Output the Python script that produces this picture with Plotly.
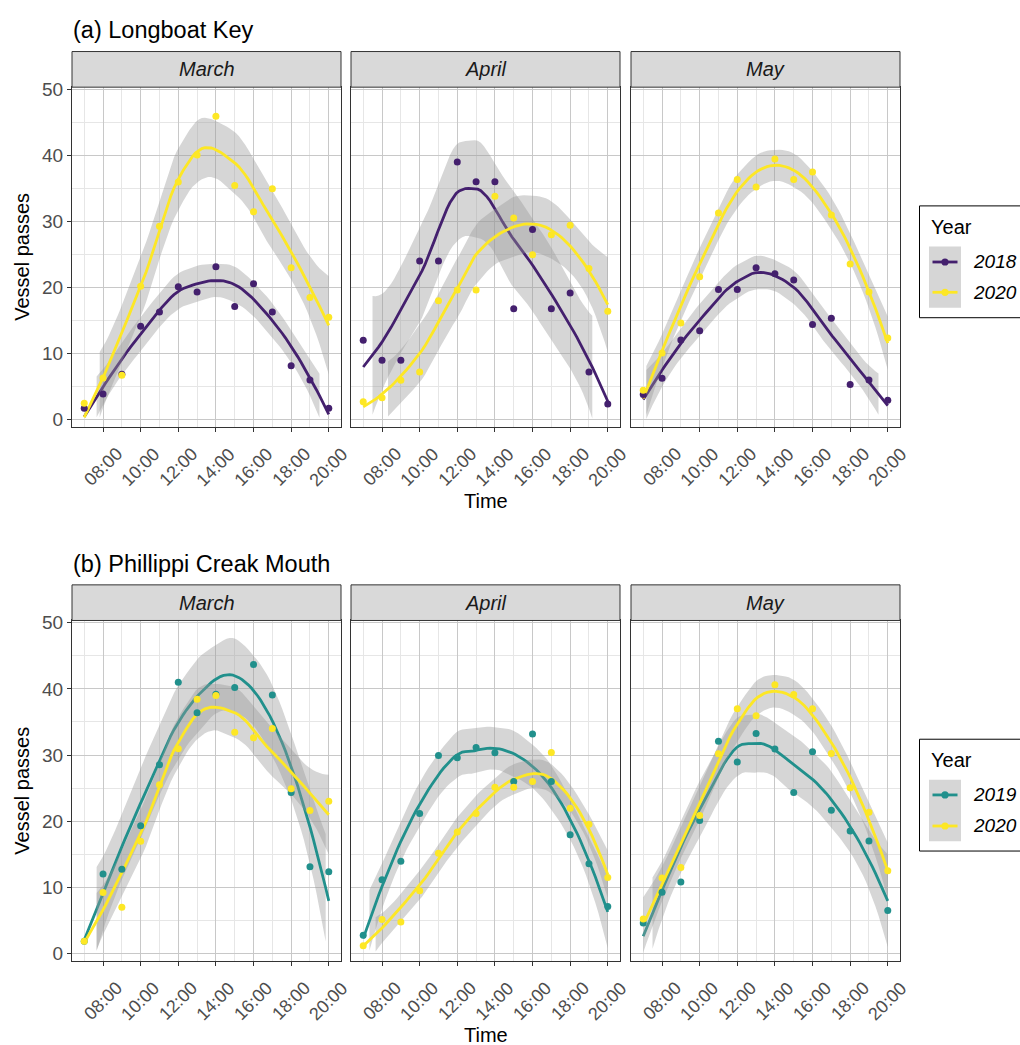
import math
import numpy as np
import plotly.graph_objects as go

# ---------------- data ----------------
HOURS = [7, 8, 9, 10, 11, 12, 13, 14, 15, 16, 17, 18, 19, 20]
TICK_HOURS = [8, 10, 12, 14, 16, 18, 20]
TICK_LABELS = ["08:00", "10:00", "12:00", "14:00", "16:00", "18:00", "20:00"]
MONTHS = ["March", "April", "May"]
Y_TICKS = [0, 10, 20, 30, 40, 50]

# (a) Longboat Key
lbk_2018_march = [1.65, 3.8, 6.8, 14.1, 16.25, 20.1, 19.3, 23.1, 17.1, 20.55, 16.25, 8.1, 5.95, 1.65]
lbk_2020_march = [2.4, 6.25, 6.65, 20.15, 29.25, 35.95, 40.05, 45.95, 35.45, 31.45, 34.95, 22.95, 18.45, 15.45]
lbk_2018_april = [11.95, 8.95, 8.95, 24.0, 24.0, 39.0, 36.0, 36.0, 16.75, 28.75, 16.75, 19.15, 7.15, 2.3]
lbk_2020_april = [2.65, 3.25, 5.9, 7.15, 17.95, 19.6, 19.6, 33.8, 30.5, 24.95, 27.95, 29.4, 22.85, 16.35]
lbk_2018_may = [3.75, 6.2, 12.0, 13.4, 19.65, 19.65, 22.95, 22.05, 21.1, 14.35, 15.3, 5.25, 5.95, 2.85]
lbk_2020_may = [4.4, 10.05, 14.6, 21.6, 31.25, 36.35, 35.2, 39.45, 36.35, 37.5, 30.95, 23.55, 19.3, 12.3]

# (b) Phillippi Creak Mouth
pcm_2019_march = [1.85, 12.0, 12.75, 19.3, 28.55, 41.0, 36.4, 39.2, 40.2, 43.7, 39.1, 24.35, 13.1, 12.35]
pcm_2020_march = [1.85, 9.2, 7.0, 16.95, 25.5, 30.95, 38.45, 39.0, 33.45, 32.6, 34.0, 24.9, 21.6, 23.0]
pcm_2019_april = [2.75, 11.15, 13.95, 21.15, 29.95, 29.6, 31.15, 30.35, 26.0, 33.2, 26.0, 17.95, 13.55, 7.1]
pcm_2020_april = [1.15, 5.15, 4.75, 9.5, 15.15, 18.35, 21.15, 25.15, 25.15, 26.0, 30.4, 21.95, 19.55, 11.5]
pcm_2019_may = [4.6, 9.25, 10.8, 20.1, 32.1, 28.95, 33.25, 30.9, 24.35, 30.5, 21.65, 18.5, 17.0, 6.5]
pcm_2020_may = [5.2, 11.4, 13.0, 20.85, 30.2, 37.0, 35.95, 40.65, 39.15, 37.0, 30.25, 25.05, 21.35, 12.5]

YEAR_COLORS = {"2018": "#44206e", "2019": "#21908C", "2020": "#FDE725"}

ROWS = [
    {"title": "(a) Longboat Key", "years": ["2018", "2020"],
     "series": [[lbk_2018_march, lbk_2020_march], [lbk_2018_april, lbk_2020_april], [lbk_2018_may, lbk_2020_may]]},
    {"title": "(b) Phillippi Creak Mouth", "years": ["2019", "2020"],
     "series": [[pcm_2019_march, pcm_2020_march], [pcm_2019_april, pcm_2020_april], [pcm_2019_may, pcm_2020_may]]},
]

Y_LIMITS = (0, 50)        # scale limits (values outside are censored, as in ggplot)


# ---------------- loess smoother (R loess, interpolated kd-tree surface) ----------------
def t_quantile(p, df):
    ts = np.linspace(0, 30, 300001)
    c = math.gamma((df + 1) / 2) / (math.sqrt(df * math.pi) * math.gamma(df / 2))
    pdf = c * (1 + ts ** 2 / df) ** (-(df + 1) / 2)
    cdf = 0.5 + np.concatenate([[0.0], np.cumsum((pdf[1:] + pdf[:-1]) / 2 * np.diff(ts))])
    return float(np.interp(p, cdf, ts))


def loess_smooth(x, y, xnew, span=0.75, level=0.95, cell=0.2):
    x = np.asarray(x, float)
    y = np.asarray(y, float)
    n = len(x)
    q = int(math.floor(n * span))
    fc = int(math.floor(n * span * cell))

    def local(x0):
        d = np.abs(x - x0)
        h = np.sort(d)[q - 1]
        u = d / h
        w = np.where(u < 1, (1 - u ** 3) ** 3, 0.0)
        X = np.column_stack([np.ones(n), x - x0, (x - x0) ** 2])
        XtW = X.T * w
        S = np.linalg.solve(XtW @ X, XtW)
        return S[0], S[1]          # operator rows for value and slope

    # kd-tree vertices (1-D)
    order = np.argsort(x)
    xs = x[order]
    lo_b, hi_b = xs[0], xs[-1]
    mu = 0.005 * (hi_b - lo_b)
    verts = {lo_b - mu, hi_b + mu}

    def build(l, u, vlo, vhi):
        if u - l + 1 <= fc:
            return
        m = (l + u) // 2
        xi = xs[m]
        if xi == vlo or xi == vhi:
            return
        verts.add(xi)
        build(l, m, vlo, xi)
        build(m + 1, u, xi, vhi)

    build(0, n - 1, lo_b - mu, hi_b + mu)
    V = np.array(sorted(verts))
    LV, LS = zip(*[local(v) for v in V])
    LV = np.array(LV)
    LS = np.array(LS)

    def op_row(x0):
        j = int(np.clip(np.searchsorted(V, x0) - 1, 0, len(V) - 2))
        dlt = V[j + 1] - V[j]
        t = (x0 - V[j]) / dlt
        h00 = 2 * t ** 3 - 3 * t ** 2 + 1
        h10 = t ** 3 - 2 * t ** 2 + t
        h01 = -2 * t ** 3 + 3 * t ** 2
        h11 = t ** 3 - t ** 2
        return h00 * LV[j] + h10 * dlt * LS[j] + h01 * LV[j + 1] + h11 * dlt * LS[j + 1]

    L = np.array([op_row(xi) for xi in x])
    res = y - L @ y
    IL = np.eye(n) - L
    M = IL.T @ IL
    d1 = np.trace(M)
    d2 = np.trace(M @ M)
    s = math.sqrt(np.sum(res ** 2) / d1)
    df = d1 ** 2 / d2
    Ln = np.array([op_row(x0) for x0 in xnew])
    fit = Ln @ y
    se = s * np.sqrt(np.sum(Ln ** 2, axis=1))
    t = t_quantile(0.5 + level / 2, df)
    return fit, fit - t * se, fit + t * se


def censor(v):
    v = np.asarray(v, float).copy()
    v[(v < Y_LIMITS[0]) | (v > Y_LIMITS[1])] = np.nan
    return v


def ribbon_runs(xv, lo, hi):
    ok = ~(np.isnan(lo) | np.isnan(hi))
    runs, cur = [], []
    for i in range(len(xv)):
        if ok[i]:
            cur.append(i)
        elif cur:
            runs.append(cur)
            cur = []
    if cur:
        runs.append(cur)
    return runs


# ---------------- layout geometry (pixels) ----------------
W, H = 1020, 1045
def px(x):
    return x / W
def py(y):
    return 1 - y / H

COL_X = [(72, 341), (351, 620), (631, 900)]
ROW_Y = [(80, 423), (619, 963)]          # plot area top/bottom
STRIP_H = 36
TITLE_Y = [22, 562]
TICKLAB_Y = [464, 1004]
TIME_Y = [498, 1038]
LEG = [dict(box=(200, 313), key=(241, 303), lines=(256.7, 287.3), title=221.7),
       dict(box=(739, 852), key=(780, 842), lines=(795.3, 826.7), title=760)]

FONT = "Liberation Sans, Arial, sans-serif"
XR = [6.35, 20.65]
YR = [-1.12, 50.35]
RIBBON = "rgba(153,153,153,0.4)"

fig = go.Figure()
layout = dict(
    width=W, height=H, margin=dict(l=0, r=0, t=0, b=0),
    paper_bgcolor="white", plot_bgcolor="white", showlegend=False,
    font=dict(family=FONT, color="black"),
)
annotations = []
shapes = []

xs_fit = np.linspace(HOURS[0], HOURS[-1], 80)

for r, row in enumerate(ROWS):
    top, bot = ROW_Y[r]
    for c in range(3):
        k = r * 3 + c + 1
        xa = "x" if k == 1 else f"x{k}"
        ya = "y" if k == 1 else f"y{k}"
        xl = "xaxis" if k == 1 else f"xaxis{k}"
        yl = "yaxis" if k == 1 else f"yaxis{k}"
        x0, x1 = COL_X[c]
        layout[xl] = dict(
            domain=[px(x0), px(x1)], range=XR, anchor=ya,
            tickvals=TICK_HOURS, showticklabels=False, ticks="outside", ticklen=4,
            tickcolor="#333333", tickwidth=1,
            showgrid=True, gridcolor="#c8c8c8", gridwidth=1.2, zeroline=False,
            minor=dict(tick0=7, dtick=1, showgrid=True, gridcolor="#e6e6e6", gridwidth=0.7),
            showline=True, mirror=True, linecolor="#333333", linewidth=1,
        )
        layout[yl] = dict(
            domain=[py(bot), py(top)], range=YR, anchor=xa,
            tickvals=Y_TICKS, showticklabels=(c == 0),
            ticks="outside" if c == 0 else "", ticklen=4, tickcolor="#333333", tickwidth=1,
            tickfont=dict(size=19, color="#4d4d4d", family=FONT),
            showgrid=True, gridcolor="#c8c8c8", gridwidth=1.2, zeroline=False,
            minor=dict(tick0=0, dtick=5, showgrid=True, gridcolor="#e6e6e6", gridwidth=0.7),
            showline=True, mirror=True, linecolor="#333333", linewidth=1,
        )

        # smooths: ribbon then line per group
        for g, year in enumerate(row["years"]):
            yv = row["series"][c][g]
            fit, lo, hi = loess_smooth(HOURS, yv, xs_fit)
            lo_c, hi_c = censor(lo), censor(hi)
            for run in ribbon_runs(xs_fit, lo_c, hi_c):
                if len(run) < 2:
                    continue
                rx = xs_fit[run]
                fig.add_trace(go.Scatter(
                    x=np.concatenate([rx, rx[::-1]]),
                    y=np.concatenate([hi_c[run], lo_c[run][::-1]]),
                    xaxis=xa, yaxis=ya, mode="lines", fill="toself", fillcolor=RIBBON,
                    line=dict(width=0), hoverinfo="skip"))
            fig.add_trace(go.Scatter(
                x=xs_fit, y=censor(fit), xaxis=xa, yaxis=ya, mode="lines",
                line=dict(color=YEAR_COLORS[year], width=2.8)))
        for g, year in enumerate(row["years"]):
            yv = row["series"][c][g]
            fig.add_trace(go.Scatter(
                x=HOURS, y=yv, xaxis=xa, yaxis=ya, mode="markers",
                marker=dict(color=YEAR_COLORS[year], size=7, line=dict(width=0))))

        # strip
        shapes.append(dict(type="rect", xref="paper", yref="paper",
                           x0=px(x0), x1=px(x1), y0=py(top), y1=py(top - STRIP_H),
                           fillcolor="#d9d9d9", line=dict(color="#333333", width=1), layer="above"))
        annotations.append(dict(text=f"<i>{MONTHS[c]}</i>", xref="paper", yref="paper",
                                x=px((x0 + x1) / 2), y=py(top - STRIP_H / 2),
                                xanchor="center", yanchor="middle", showarrow=False,
                                font=dict(size=20, color="#1a1a1a", family=FONT)))
        # rotated x tick labels
        for hv, lab in zip(TICK_HOURS, TICK_LABELS):
            annotations.append(dict(text=lab, xref=xa, yref="paper", x=hv, y=py(TICKLAB_Y[r]),
                                    xanchor="center", yanchor="middle", showarrow=False,
                                    textangle=-45,
                                    font=dict(size=18, color="#4d4d4d", family=FONT)))

    # row title, axis titles
    annotations.append(dict(text=row["title"], xref="paper", yref="paper", x=px(71), y=py(TITLE_Y[r]),
                            xanchor="left", yanchor="middle", showarrow=False,
                            font=dict(size=23.5, color="black", family=FONT)))
    annotations.append(dict(text="Time", xref="paper", yref="paper", x=px(486), y=py(TIME_Y[r]),
                            xanchor="center", yanchor="middle", showarrow=False,
                            font=dict(size=20, color="black", family=FONT)))
    annotations.append(dict(text="Vessel passes", xref="paper", yref="paper", x=px(22),
                            y=py((top + bot) / 2), xanchor="center", yanchor="middle",
                            showarrow=False, textangle=-90,
                            font=dict(size=20, color="black", family=FONT)))

    # legend (drawn manually)
    lg = LEG[r]
    shapes.append(dict(type="rect", xref="paper", yref="paper", x0=px(919.5), x1=px(1040),
                       y0=py(lg["box"][1]), y1=py(lg["box"][0]),
                       fillcolor="white", line=dict(color="black", width=1)))
    shapes.append(dict(type="rect", xref="paper", yref="paper", x0=px(929), x1=px(961),
                       y0=py(lg["key"][1]), y1=py(lg["key"][0]),
                       fillcolor=RIBBON, line=dict(width=0)))
    annotations.append(dict(text="Year", xref="paper", yref="paper", x=px(929), y=py(lg["title"]),
                            xanchor="left", yanchor="middle", showarrow=False,
                            font=dict(size=20, color="black", family=FONT)))
    for g, year in enumerate(row["years"]):
        ly = lg["lines"][g]
        col = YEAR_COLORS[year]
        shapes.append(dict(type="line", xref="paper", yref="paper", x0=px(932.5), x1=px(957.5),
                           y0=py(ly), y1=py(ly), line=dict(color=col, width=2.8)))
        shapes.append(dict(type="circle", xref="paper", yref="paper", xsizemode="pixel",
                           ysizemode="pixel", xanchor=px(945), yanchor=py(ly),
                           x0=-3.6, x1=3.6, y0=-3.6, y1=3.6, fillcolor=col, line=dict(width=0)))
        annotations.append(dict(text=f"<i>{year}</i>", xref="paper", yref="paper", x=px(971),
                                y=py(ly), xanchor="left", yanchor="middle", showarrow=False,
                                font=dict(size=19, color="black", family=FONT)))

layout["annotations"] = annotations
layout["shapes"] = shapes
fig.update_layout(**layout)
fig.write_html("out.html")
